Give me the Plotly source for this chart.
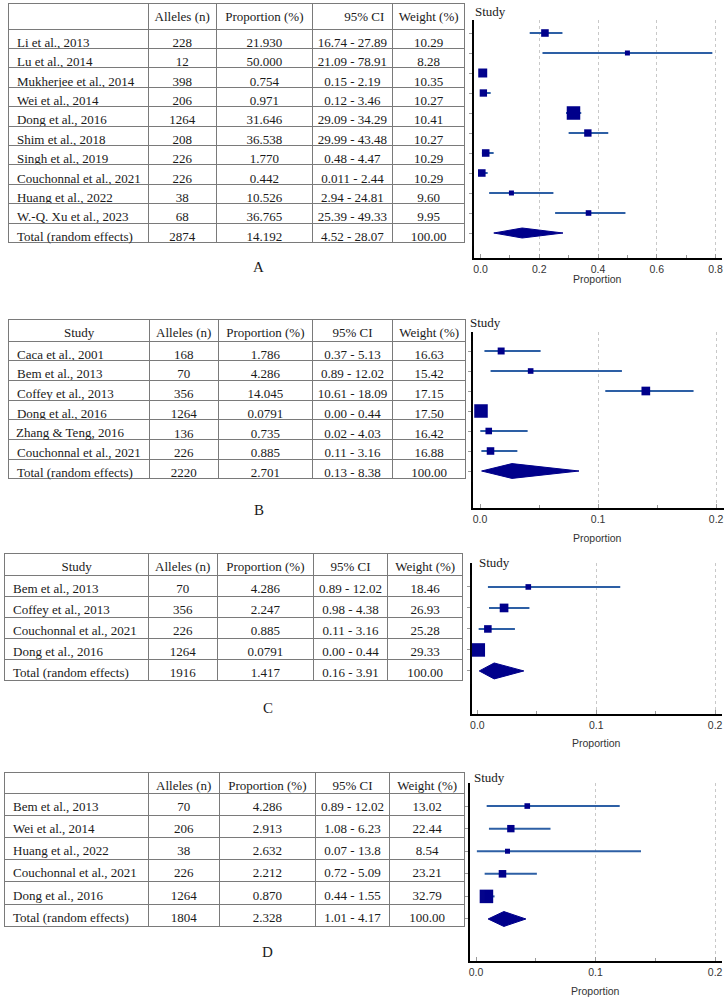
import plotly.graph_objects as go

# ---------------- DATA ----------------
header_a = ["", "Alleles (n)", "Proportion (%)", "95% CI", "Weight (%)"]
studies_a = ["Li et al., 2013", "Lu et al., 2014", "Mukherjee et al., 2014", "Wei et al., 2014",
             "Dong et al., 2016", "Shim et al., 2018", "Singh et al., 2019", "Couchonnal et al., 2021",
             "Huang et al., 2022", "W.-Q. Xu et al., 2023", "Total (random effects)"]
alleles_a = [228, 12, 398, 206, 1264, 208, 226, 226, 38, 68, 2874]
prop_a = ["21.930", "50.000", "0.754", "0.971", "31.646", "36.538", "1.770", "0.442", "10.526", "36.765", "14.192"]
lo_a = ["16.74", "21.09", "0.15", "0.12", "29.09", "29.99", "0.48", "0.011", "2.94", "25.39", "4.52"]
hi_a = ["27.89", "78.91", "2.19", "3.46", "34.29", "43.48", "4.47", "2.44", "24.81", "49.33", "28.07"]
weight_a = ["10.29", "8.28", "10.35", "10.27", "10.41", "10.27", "10.29", "10.29", "9.60", "9.95", "100.00"]
xticks_a = [0.0, 0.2, 0.4, 0.6, 0.8]

header_b = ["Study", "Alleles (n)", "Proportion (%)", "95% CI", "Weight (%)"]
studies_b = ["Caca et al., 2001", "Bem et al., 2013", "Coffey et al., 2013", "Dong et al., 2016",
             "Zhang & Teng, 2016", "Couchonnal et al., 2021", "Total (random effects)"]
alleles_b = [168, 70, 356, 1264, 136, 226, 2220]
prop_b = ["1.786", "4.286", "14.045", "0.0791", "0.735", "0.885", "2.701"]
lo_b = ["0.37", "0.89", "10.61", "0.00", "0.02", "0.11", "0.13"]
hi_b = ["5.13", "12.02", "18.09", "0.44", "4.03", "3.16", "8.38"]
weight_b = ["16.63", "15.42", "17.15", "17.50", "16.42", "16.88", "100.00"]

header_c = ["Study", "Alleles (n)", "Proportion (%)", "95% CI", "Weight (%)"]
studies_c = ["Bem et al., 2013", "Coffey et al., 2013", "Couchonnal et al., 2021", "Dong et al., 2016",
             "Total (random effects)"]
alleles_c = [70, 356, 226, 1264, 1916]
prop_c = ["4.286", "2.247", "0.885", "0.0791", "1.417"]
lo_c = ["0.89", "0.98", "0.11", "0.00", "0.16"]
hi_c = ["12.02", "4.38", "3.16", "0.44", "3.91"]
weight_c = ["18.46", "26.93", "25.28", "29.33", "100.00"]

header_d = ["", "Alleles (n)", "Proportion (%)", "95% CI", "Weight (%)"]
studies_d = ["Bem et al., 2013", "Wei et al., 2014", "Huang et al., 2022", "Couchonnal et al., 2021",
             "Dong et al., 2016", "Total (random effects)"]
alleles_d = [70, 206, 38, 226, 1264, 1804]
prop_d = ["4.286", "2.913", "2.632", "2.212", "0.870", "2.328"]
lo_d = ["0.89", "1.08", "0.07", "0.72", "0.44", "1.01"]
hi_d = ["12.02", "6.23", "13.8", "5.09", "1.55", "4.17"]
weight_d = ["13.02", "22.44", "8.54", "23.21", "32.79", "100.00"]
xticks_bcd = [0.0, 0.1, 0.2]

panel_labels = ["A", "B", "C", "D"]

# ---------------- LAYOUT HELPERS ----------------
W, H = 728, 1002
def fx(px): return px / W
def fy(py): return 1 - py / H

NB = "\u00a0"
def nb(s):  # keep cell text on one line
    return str(s).replace(" ", NB)

SERIF = "Liberation Serif"
SANS = "Liberation Sans"
NAVY = "#00008b"
LINEBLUE = "#2d5fa5"
GRIDC = "#c8c8c8"
TLINE = "#7a7a7a"
TXT = "#1a1a1a"
CELLPAD = 8  # plotly table cell padding (px)

fig = go.Figure()

panels = [
    dict(header=header_a, studies=studies_a, n=alleles_a, p=prop_a, lo=lo_a, hi=hi_a, w=weight_a,
         tx=(7, 465), ttop=3, cw=[140, 68, 97, 80, 73], hh=26, ch=19.4,
         hdr_align=["center", "center", "center", "right", "center"],
         fxd=(474, 723), xr=(-0.022, 0.822), fyd=(20, 258), yr=(12.25, 0.35),
         xt=xticks_a, minor=0.1, dh=0.25, study=(473, 12), prop=(598, 279), lab=(258, 267)),
    dict(header=header_b, studies=studies_b, n=alleles_b, p=prop_b, lo=lo_b, hi=hi_b, w=weight_b,
         tx=(7, 466), ttop=319, cw=[141, 69, 95, 80, 74], hh=22, ch=19.7,
         hdr_align=["center"] * 5,
         fxd=(472.7, 725), xr=(-0.0062, 0.2067), fyd=(332, 508), yr=(8.85, 0.05),
         xt=xticks_bcd, minor=0.05, dh=0.37, study=(468, 323), prop=(598, 538), lab=(258, 510)),
    dict(header=header_c, studies=studies_c, n=alleles_c, p=prop_c, lo=lo_c, hi=hi_c, w=weight_c,
         tx=(3, 463), ttop=553, cw=[144, 69, 97, 74, 76], hh=22, ch=21,
         hdr_align=["center"] * 5,
         fxd=(471.7, 723), xr=(-0.0047, 0.2058), fyd=(563, 714), yr=(7.05, -0.14),
         xt=xticks_bcd, minor=0.05, dh=0.38, study=(477, 562), prop=(597, 743), lab=(267, 708)),
    dict(header=header_d, studies=studies_d, n=alleles_d, p=prop_d, lo=lo_d, hi=hi_d, w=weight_d,
         tx=(3, 465), ttop=772, cw=[144, 71, 97, 74, 76], hh=21, ch=22.2,
         hdr_align=["center"] * 5,
         fxd=(470, 723), xr=(-0.005, 0.2058), fyd=(783, 961), yr=(7.86, -0.02),
         xt=xticks_bcd, minor=0.05, dh=0.33, study=(472, 777), prop=(596, 991), lab=(267, 952)),
]

annotations = []
layout_axes = {}

for i, P in enumerate(panels):
    k = i + 1
    nrows = len(P["studies"])
    # ---- table ----
    ci = [nb(f"{a} - {b}") for a, b in zip(P["lo"], P["hi"])]
    # plotly tables enlarge rows holding markup characters such as "&";
    # such labels are written as annotations over their (blank) cell instead
    first_col = []
    for j, s in enumerate(P["studies"]):
        if "&" in s:
            first_col.append("")
            cy = P["ttop"] + P["hh"] + P["ch"] * (j + 0.5)
            annotations.append(dict(text=s.replace("&", "&amp;"), x=fx(P["tx"][0] + CELLPAD - 3),
                                    y=fy(cy + 2.5), xref="paper", yref="paper", xanchor="left",
                                    yanchor="middle", showarrow=False,
                                    font=dict(family=SERIF, size=13, color=TXT)))
        else:
            first_col.append(nb(s))
    tbot = P["ttop"] + P["hh"] + P["ch"] * nrows + 4
    fig.add_trace(go.Table(
        domain=dict(x=[fx(P["tx"][0]), fx(P["tx"][1])], y=[fy(tbot), fy(P["ttop"])]),
        columnwidth=P["cw"],
        header=dict(values=[nb(h) for h in P["header"]], align=P["hdr_align"], height=P["hh"],
                    line=dict(color=TLINE, width=1), fill=dict(color="white"),
                    font=dict(family=SERIF, size=13, color=TXT)),
        cells=dict(values=[first_col, [str(v) for v in P["n"]], P["p"], ci, P["w"]],
                   align=["left", "center", "center", "center", "center"], height=P["ch"],
                   line=dict(color=TLINE, width=1), fill=dict(color="white"),
                   font=dict(family=SERIF, size=13, color=TXT)),
    ))

    # ---- forest plot ----
    xa = f"x{k}"; ya = f"y{k}"; xg = f"x{k + 4}"
    rows = list(range(1, nrows + 1))
    est = [float(v) / 100 for v in P["p"]]
    los = [float(v) / 100 for v in P["lo"]]
    his = [float(v) / 100 for v in P["hi"]]

    # grid carrier (overlay axis, grid only at non-zero ticks)
    gv = [v for v in P["xt"] if v > 0]
    fig.add_trace(go.Scatter(x=gv, y=[None] * len(gv), mode="markers", xaxis=xg, yaxis=ya,
                             marker=dict(opacity=0), showlegend=False, hoverinfo="skip"))

    # CI lines for individual studies
    lx, ly = [], []
    for r, a, b in zip(rows[:-1], los[:-1], his[:-1]):
        lx += [a, b, None]; ly += [r, r, None]
    fig.add_trace(go.Scatter(x=lx, y=ly, mode="lines", xaxis=xa, yaxis=ya,
                             line=dict(color=LINEBLUE, width=2), showlegend=False,
                             hoverinfo="skip", cliponaxis=False))
    # squares, size by number of alleles
    sizes = [max(5, 3.2 + 0.29 * (n ** 0.5)) for n in P["n"][:-1]]
    fig.add_trace(go.Scatter(x=est[:-1], y=rows[:-1], mode="markers", xaxis=xa, yaxis=ya,
                             marker=dict(symbol="square", size=sizes, color=NAVY, opacity=1,
                                         line=dict(width=0)),
                             showlegend=False, cliponaxis=False))
    # pooled diamond
    r = rows[-1]; h = P["dh"]
    fig.add_trace(go.Scatter(x=[los[-1], est[-1], his[-1], est[-1], los[-1]],
                             y=[r, r - h, r, r + h, r], mode="lines", fill="toself",
                             fillcolor=NAVY, line=dict(color=NAVY, width=1), xaxis=xa, yaxis=ya,
                             showlegend=False, cliponaxis=False))

    dom_x = [fx(P["fxd"][0]), fx(P["fxd"][1])]
    layout_axes[f"xaxis{k}"] = dict(
        domain=dom_x, range=list(P["xr"]), anchor=ya,
        tickvals=P["xt"], ticktext=[f"{v:.1f}" for v in P["xt"]],
        ticks="inside", ticklen=4, tickcolor="#9a9a9a", tickwidth=1,
        minor=dict(dtick=P["minor"], tick0=0, ticks="inside", ticklen=3, tickcolor="#9a9a9a", showgrid=False),
        showgrid=False, showline=True, linecolor="black", linewidth=2, zeroline=False,
        tickfont=dict(family=SANS, size=10.5, color="#333333"), fixedrange=True)
    layout_axes[f"xaxis{k + 4}"] = dict(
        domain=dom_x, range=list(P["xr"]), anchor=ya, overlaying=xa, side="bottom",
        tickvals=gv, showticklabels=False, ticks="", showline=False, zeroline=False,
        showgrid=True, gridcolor=GRIDC, griddash="dot", gridwidth=1, fixedrange=True)
    layout_axes[f"yaxis{k}"] = dict(
        domain=[fy(P["fyd"][1]), fy(P["fyd"][0])], range=list(P["yr"]), anchor=xa,
        tickvals=rows, ticktext=[""] * nrows, ticks="outside", ticklen=3,
        tickcolor="#9a9a9a", showgrid=False, zeroline=False,
        showline=True, linecolor="black", linewidth=2, fixedrange=True)

    annotations.append(dict(text="Study", x=fx(P["study"][0]), y=fy(P["study"][1]), xref="paper", yref="paper",
                            xanchor="left", yanchor="middle", showarrow=False,
                            font=dict(family=SERIF, size=13, color=TXT)))
    annotations.append(dict(text="Proportion", x=fx(P["prop"][0]), y=fy(P["prop"][1]), xref="paper", yref="paper",
                            xanchor="center", yanchor="middle", showarrow=False,
                            font=dict(family=SANS, size=10.5, color="#333333")))
    annotations.append(dict(text=panel_labels[i], x=fx(P["lab"][0]), y=fy(P["lab"][1]), xref="paper", yref="paper",
                            xanchor="center", yanchor="middle", showarrow=False,
                            font=dict(family=SERIF, size=15, color=TXT)))

fig.update_layout(width=W, height=H, margin=dict(l=0, r=0, t=0, b=0),
                  paper_bgcolor="white", plot_bgcolor="white",
                  annotations=annotations, showlegend=False, **layout_axes)

fig.write_html("out.html", config={"displayModeBar": False},
               post_script="document.body.style.margin='0';document.body.style.overflow='hidden';")
